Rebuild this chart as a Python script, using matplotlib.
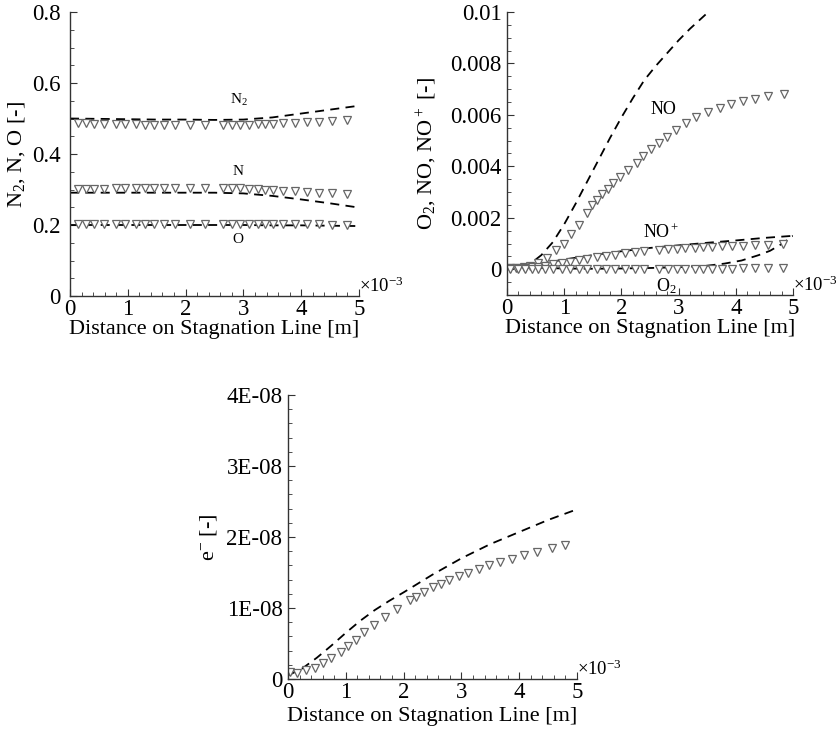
import numpy as np
import matplotlib
matplotlib.use("Agg")
import matplotlib.pyplot as plt
from matplotlib.ticker import MultipleLocator

plt.rcParams['font.family'] = ['Liberation Serif', 'DejaVu Serif']
plt.rcParams['mathtext.fontset'] = 'custom'
plt.rcParams['mathtext.rm'] = 'Liberation Serif'
plt.rcParams['mathtext.it'] = 'Liberation Serif:italic'
plt.rcParams['mathtext.bf'] = 'Liberation Serif:bold'

# =========================
# DATA  (x in 1e-3 m)
# =========================

# left panel: N2, N, O
x_left_ref = [0.13, 0.27, 0.42, 0.58, 0.79, 0.95, 1.14, 1.30, 1.46, 1.63, 1.82, 2.08, 2.34,
              2.65, 2.80, 2.94, 3.09, 3.25, 3.37, 3.52, 3.69, 3.89, 4.10, 4.31, 4.54, 4.80]
n2_ref = [0.486, 0.486, 0.485, 0.485, 0.484, 0.484, 0.484, 0.483, 0.483, 0.483, 0.483, 0.483, 0.482,
          0.482, 0.482, 0.483, 0.483, 0.484, 0.484, 0.485, 0.486, 0.487, 0.489, 0.490, 0.493, 0.495]
n_ref = [0.302, 0.302, 0.302, 0.302, 0.303, 0.303, 0.303, 0.303, 0.303, 0.304, 0.304, 0.304, 0.304,
         0.304, 0.304, 0.303, 0.302, 0.301, 0.300, 0.299, 0.297, 0.295, 0.293, 0.291, 0.289, 0.287]
o_ref = [0.203, 0.203, 0.203, 0.203, 0.203, 0.203, 0.203, 0.203, 0.203, 0.203, 0.203, 0.203, 0.203,
         0.203, 0.203, 0.203, 0.203, 0.203, 0.203, 0.202, 0.202, 0.202, 0.202, 0.202, 0.201, 0.201]

x_left_sim = [0.0, 0.5, 1.0, 1.5, 2.0, 2.5, 3.0, 3.5, 4.0, 4.5, 5.0]
n2_sim = [0.500, 0.499, 0.498, 0.497, 0.497, 0.496, 0.497, 0.503, 0.514, 0.525, 0.536]
n_sim = [0.291, 0.291, 0.291, 0.291, 0.291, 0.291, 0.289, 0.282, 0.272, 0.261, 0.249]
o_sim = [0.200, 0.200, 0.200, 0.200, 0.200, 0.200, 0.200, 0.199, 0.199, 0.198, 0.197]

# right panel: O2, NO, NO+  (values in 1e-3)
x_right_ref = [0.05, 0.20, 0.31, 0.43, 0.55, 0.66, 0.81, 0.96, 1.10, 1.26, 1.40, 1.57, 1.73, 1.89,
               2.06, 2.24, 2.40, 2.66, 2.82, 2.97, 3.11, 3.28, 3.43, 3.58, 3.75, 3.93, 4.12, 4.34,
               4.57, 4.83]
o2_ref = [0.02, 0.01, 0.01, 0.01, 0.01, 0.01, 0.01, 0.01, 0.01, 0.01, 0.01, 0.01, 0.01, 0.01,
          0.01, 0.01, 0.01, 0.02, 0.02, 0.02, 0.02, 0.02, 0.03, 0.03, 0.03, 0.03, 0.04, 0.04,
          0.04, 0.05]
nop_ref = [0.04, 0.05, 0.06, 0.08, 0.10, 0.13, 0.20, 0.24, 0.30, 0.35, 0.40, 0.46, 0.52, 0.57,
           0.62, 0.66, 0.70, 0.76, 0.78, 0.80, 0.82, 0.84, 0.86, 0.87, 0.89, 0.90, 0.92, 0.94,
           0.96, 1.00]

x_no_ref = [0.06, 0.15, 0.29, 0.41, 0.55, 0.70, 0.85, 0.99, 1.12, 1.25, 1.40, 1.48, 1.57, 1.66,
            1.76, 1.86, 1.98, 2.12, 2.27, 2.38, 2.51, 2.65, 2.79, 2.95, 3.13, 3.30, 3.51, 3.72,
            3.92, 4.13, 4.33, 4.56, 4.84]
no_ref = [0.05, 0.06, 0.09, 0.13, 0.26, 0.43, 0.75, 0.97, 1.36, 1.71, 2.20, 2.49, 2.68, 2.91,
          3.13, 3.37, 3.60, 3.86, 4.15, 4.40, 4.66, 4.92, 5.16, 5.40, 5.67, 5.93, 6.11, 6.28,
          6.41, 6.53, 6.63, 6.74, 6.83]

x_no_sim = [0.0, 0.2, 0.4, 0.6, 0.8, 1.0, 1.2, 1.4, 1.6, 1.8, 2.0, 2.2, 2.4, 2.6, 2.8, 3.0,
            3.2, 3.52]
no_sim = [0.05, 0.08, 0.20, 0.55, 1.05, 1.75, 2.55, 3.40, 4.25, 5.10, 5.90, 6.65, 7.35, 7.90,
          8.40, 8.90, 9.35, 10.0]

x_nop_sim = [0.0, 0.3, 0.6, 1.0, 1.5, 2.0, 2.5, 3.0, 3.5, 4.0, 4.5, 5.0]
nop_sim = [0.05, 0.10, 0.22, 0.38, 0.55, 0.70, 0.83, 0.93, 1.03, 1.12, 1.22, 1.30]

x_o2_sim = [0.0, 0.5, 1.0, 1.5, 2.0, 2.5, 3.0, 3.5, 3.8, 4.1, 4.4, 4.6, 4.8, 5.0]
o2_sim = [0.08, 0.06, 0.03, 0.02, 0.03, 0.05, 0.08, 0.14, 0.22, 0.34, 0.55, 0.72, 0.98, 1.30]

# bottom panel: e-  (values in 1e-8)
x_e_ref = [0.03, 0.16, 0.32, 0.47, 0.61, 0.75, 0.91, 1.04, 1.18, 1.32, 1.49, 1.68, 1.88, 2.11,
           2.22, 2.36, 2.50, 2.64, 2.79, 2.95, 3.12, 3.30, 3.48, 3.67, 3.88, 4.09, 4.31, 4.56,
           4.80]
e_ref = [0.10, 0.09, 0.12, 0.15, 0.22, 0.29, 0.38, 0.47, 0.55, 0.66, 0.76, 0.87, 0.98, 1.11,
         1.16, 1.23, 1.29, 1.34, 1.40, 1.45, 1.50, 1.55, 1.60, 1.65, 1.69, 1.74, 1.79, 1.84,
         1.89]

x_e_sim = [0.0, 0.25, 0.5, 0.75, 1.0, 1.25, 1.5, 1.75, 2.0, 2.5, 3.0, 3.5, 4.0, 4.5, 5.0]
e_sim = [0.05, 0.15, 0.30, 0.47, 0.65, 0.82, 0.97, 1.10, 1.22, 1.47, 1.70, 1.90, 2.07, 2.24, 2.39]

# =========================
# STYLE HELPERS
# =========================

W, H = 837, 733
ref_style = dict(linestyle='none', marker='v', markersize=6, markerfacecolor='white',
                 markeredgecolor='#666666', markeredgewidth=0.9)
sim_style = dict(color='black', linewidth=1.3, dashes=(5, 3.5))


def make_axes(fig, x0, x1, y0, y1, ypad, xlabelpad):
    ax = fig.add_axes([x0 / W, 1 - y1 / H, (x1 - x0) / W, (y1 - y0) / H])
    ax.spines['top'].set_visible(False)
    ax.spines['right'].set_visible(False)
    for s in ('left', 'bottom'):
        ax.spines[s].set_color('#333333')
        ax.spines[s].set_linewidth(1.0)
    ax.tick_params(which='both', direction='in', colors='#333333', labelcolor='black',
                   labelsize=16.5, top=False, right=False)
    ax.tick_params(which='major', length=5)
    ax.tick_params(which='minor', length=3)
    ax.tick_params(axis='x', pad=2)
    ax.tick_params(axis='y', pad=ypad)
    ax.set_xlim(0, 5)
    ax.xaxis.set_major_locator(MultipleLocator(1))
    ax.xaxis.set_minor_locator(MultipleLocator(0.2))
    ax.set_xlabel('Distance on Stagnation Line [m]', fontsize=16, labelpad=xlabelpad)
    ax.text(1.0, 0.0, '×10$^{-3}$', transform=ax.transAxes, ha='left', va='bottom',
            fontsize=13.5)
    return ax


fig = plt.figure(figsize=(W / 100, H / 100), dpi=100)

# =========================
# LEFT PANEL
# =========================

ax1 = make_axes(fig, 70, 359, 12, 296, ypad=7, xlabelpad=0)
ax1.plot(x_left_sim, n2_sim, **sim_style)
ax1.plot(x_left_sim, n_sim, **sim_style)
ax1.plot(x_left_sim, o_sim, **sim_style)
ax1.plot(x_left_ref, n2_ref, **ref_style)
ax1.plot(x_left_ref, n_ref, **ref_style)
ax1.plot(x_left_ref, o_ref, **ref_style)
ax1.set_ylim(0, 0.8)
ax1.yaxis.set_minor_locator(MultipleLocator(0.05))
ax1.set_yticks([0, 0.2, 0.4, 0.6, 0.8])
ax1.set_yticklabels(['0', '0.2', '0.4', '0.6', '0.8'])
ax1.set_ylabel('N$_2$, N, O [-]', fontsize=16, labelpad=3)
ax1.text(2.93, 0.552, 'N$_2$', fontsize=11, ha='center', va='center')
ax1.text(2.90, 0.350, 'N', fontsize=11, ha='center', va='center')
ax1.text(2.90, 0.160, 'O', fontsize=11, ha='center', va='center')

# =========================
# RIGHT PANEL
# =========================

ax2 = make_axes(fig, 507, 793, 12, 295, ypad=4, xlabelpad=0)
ax2.plot(x_no_sim, np.array(no_sim) * 1e-3, **sim_style)
ax2.plot(x_nop_sim, np.array(nop_sim) * 1e-3, **sim_style)
ax2.plot(x_o2_sim, np.array(o2_sim) * 1e-3, **sim_style)
ax2.plot(x_no_ref, np.array(no_ref) * 1e-3, **ref_style)
ax2.plot(x_right_ref, np.array(nop_ref) * 1e-3, **ref_style)
ax2.plot(x_right_ref, np.array(o2_ref) * 1e-3, **ref_style)
ax2.set_ylim(-0.001, 0.01)
ax2.yaxis.set_minor_locator(MultipleLocator(0.0005))
ax2.set_yticks([0, 0.002, 0.004, 0.006, 0.008, 0.01])
ax2.set_yticklabels(['0', '0.002', '0.004', '0.006', '0.008', '0.01'])
ax2.set_ylabel('O$_2$, NO, NO$^+$ [-]', fontsize=16, labelpad=8)
ax2.text(2.73, 0.0062, 'NO', fontsize=13, ha='center', va='center')
ax2.text(2.70, 0.00142, 'NO$^+$', fontsize=13, ha='center', va='center')
ax2.text(2.79, -0.00065, 'O$_2$', fontsize=13, ha='center', va='center')

# =========================
# BOTTOM PANEL
# =========================

ax3 = make_axes(fig, 288, 577, 395, 679, ypad=4, xlabelpad=3)
ax3.plot(x_e_sim, np.array(e_sim) * 1e-8, **sim_style)
ax3.plot(x_e_ref, np.array(e_ref) * 1e-8, **ref_style)
ax3.set_ylim(0, 4e-8)
ax3.yaxis.set_minor_locator(MultipleLocator(0.2e-8))
ax3.set_yticks([0, 1e-8, 2e-8, 3e-8, 4e-8])
ax3.set_yticklabels(['0', '1E-08', '2E-08', '3E-08', '4E-08'])
ax3.set_ylabel('e$^{-}$ [-]', fontsize=16, labelpad=5)

fig.savefig('out.png', dpi=100)
